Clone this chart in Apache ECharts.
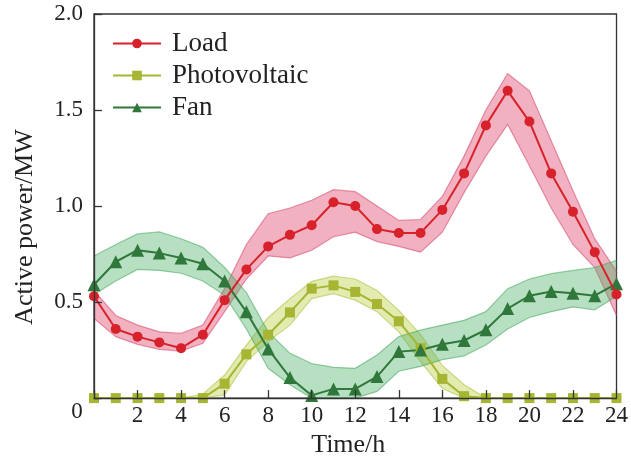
<!DOCTYPE html>
<html>
<head>
<meta charset="utf-8">
<script src="https://cdn.jsdelivr.net/npm/echarts@6/dist/echarts.min.js"></script>
<style>html,body{margin:0;padding:0;background:#fff;}#c{width:631px;height:463px;}</style>
</head>
<body>
<div id="c"></div>
<script>
var hours = [0,1,2,3,4,5,6,7,8,9,10,11,12,13,14,15,16,17,18,19,20,21,22,23,24];
var xTicks = [0,2,4,6,8,10,12,14,16,18,20,22,24];
var yTicks = [0,0.5,1.0,1.5,2.0];

var load      = [0.53,0.36,0.32,0.29,0.26,0.33,0.51,0.67,0.79,0.85,0.90,1.02,1.00,0.88,0.86,0.86,0.98,1.17,1.42,1.60,1.44,1.17,0.97,0.76,0.54];
var loadUpper = [0.56,0.43,0.38,0.345,0.337,0.38,0.57,0.80,0.96,0.99,1.03,1.085,1.075,1.00,0.925,0.93,1.05,1.26,1.50,1.69,1.60,1.34,1.08,0.83,0.66];
var loadLower = [0.415,0.32,0.28,0.254,0.245,0.285,0.45,0.62,0.74,0.73,0.77,0.84,0.864,0.815,0.79,0.76,0.864,1.07,1.26,1.425,1.21,0.99,0.80,0.68,0.43];

var pv      = [0,0,0,0,0,0,0.075,0.228,0.33,0.446,0.57,0.587,0.553,0.49,0.40,0.26,0.10,0.01,0,0,0,0,0,0,0];
var pvUpper = [0,0,0,0,0,0.02,0.12,0.276,0.42,0.518,0.608,0.635,0.62,0.56,0.457,0.33,0.17,0.07,0,0,0,0,0,0,0];
var pvLower = [0,0,0,0,0,0,0.017,0.19,0.294,0.38,0.518,0.544,0.51,0.45,0.345,0.19,0.05,0,0,0,0,0,0,0,0];

var fan      = [0.59,0.71,0.77,0.755,0.73,0.70,0.61,0.449,0.256,0.107,0.014,0.048,0.048,0.112,0.242,0.25,0.28,0.30,0.356,0.466,0.533,0.555,0.546,0.533,0.596];
var fanUpper = [0.74,0.80,0.855,0.865,0.83,0.785,0.68,0.55,0.345,0.233,0.18,0.16,0.155,0.224,0.32,0.354,0.38,0.405,0.45,0.57,0.62,0.648,0.665,0.68,0.717];
var fanLower = [0.54,0.61,0.67,0.665,0.65,0.61,0.535,0.36,0.155,0.07,0,0,0,0.035,0.14,0.165,0.2,0.22,0.276,0.36,0.42,0.45,0.475,0.46,0.53];

function pairs(xs, ys){ return xs.map(function(x,i){ return [x, ys[i]]; }); }
function rows(xs, lo, up){ return xs.map(function(x,i){ return [x, lo[i], up[i]]; }); }

var FONT = 'Liberation Serif';
var colLoad = '#d7212b', colPv = '#a6b532', colFan = '#2f773a';

function band(id, lo, up, fill, edge){
  var data = rows(hours, lo, up);
  return {
    name: id + 'Band', type:'custom', data: data, z:1, silent:true,
    encode:{x:0, y:[1,2]},
    renderItem: function(params, api){
      if (params.dataIndex !== 0) return null;
      var upPts = data.map(function(r){ return api.coord([r[0], r[2]]); });
      var loPts = data.map(function(r){ return api.coord([r[0], r[1]]); });
      var poly = upPts.concat(loPts.slice().reverse());
      return {type:'group', children:[
        {type:'polygon', shape:{points: poly}, style:{fill: fill, stroke: null}},
        {type:'polyline', shape:{points: upPts}, style:{stroke: edge, lineWidth:1.2, fill:null}},
        {type:'polyline', shape:{points: loPts}, style:{stroke: edge, lineWidth:1.2, fill:null}}
      ]};
    }
  };
}

var series = [
  band('load', loadLower, loadUpper, 'rgba(222,70,105,0.42)', 'rgba(215,80,115,0.6)'),
  band('pv', pvLower, pvUpper, 'rgba(185,205,60,0.40)', 'rgba(170,190,60,0.55)'),
  band('fan', fanLower, fanUpper, 'rgba(75,175,100,0.40)', 'rgba(70,165,95,0.55)'),
  {name:'Load', type:'line', data: pairs(hours, load), symbol:'circle', symbolSize:10,
   itemStyle:{color: colLoad}, lineStyle:{color: colLoad, width:2}, z:5},
  {name:'Photovoltaic', type:'line', data: pairs(hours, pv), symbol:'rect', symbolSize:10,
   itemStyle:{color: colPv}, lineStyle:{color: colPv, width:2}, z:4},
  {name:'Fan', type:'line', data: pairs(hours, fan), symbol:'triangle', symbolSize:13,
   itemStyle:{color: colFan}, lineStyle:{color: colFan, width:2}, z:4}
];

var chart = echarts.init(document.getElementById('c'), null, {renderer:'canvas'});
chart.setOption({
  animation:false,
  backgroundColor:'#fff',
  grid:{left:94, right:14, top:14, bottom:63, show:true, borderColor:'#333', borderWidth:1.3, backgroundColor:'transparent'},
  legend:{
    data:['Load','Photovoltaic','Fan'], orient:'vertical', left:107, top:25,
    itemWidth:48, itemHeight:12, itemGap:5,
    textStyle:{fontFamily:FONT, fontSize:27, color:'#222', padding:[0,0,0,6]}
  },
  xAxis:{
    type:'value', min:xTicks[0], max:xTicks[xTicks.length-1], interval:2, z:10,
    name:'Time/h', nameLocation:'middle', nameGap:32,
    nameTextStyle:{fontFamily:FONT, fontSize:26, color:'#222', padding:[0,14,0,0]},
    axisLine:{lineStyle:{color:'#333', width:1.3}},
    axisTick:{inside:true, length:8, lineStyle:{color:'#333', width:1.3}},
    axisLabel:{fontFamily:FONT, fontSize:23, color:'#222', margin:6,
      formatter:function(v){ return v === 0 ? '' : String(v); }},
    splitLine:{show:false}
  },
  yAxis:{
    type:'value', min:yTicks[0], max:yTicks[yTicks.length-1], interval:0.5, z:10,
    name:'Active power/MW', nameLocation:'middle', nameGap:56, nameRotate:90,
    nameTextStyle:{fontFamily:FONT, fontSize:26, color:'#222', padding:[0,42,0,0]},
    axisLine:{show:true, lineStyle:{color:'#333', width:1.3}},
    axisTick:{inside:true, length:8, lineStyle:{color:'#333', width:1.3}},
    axisLabel:{fontFamily:FONT, fontSize:23, color:'#222', margin:11,
      formatter:function(v){ return v === 0 ? '' : v.toFixed(1); }},
    splitLine:{show:false}
  },
  graphic:[{type:'text', x:77, y:412, style:{text:'0', font:'23px "Liberation Serif"', fill:'#222', align:'center', verticalAlign:'middle'}}],
  series: series
});
</script>
</body>
</html>
